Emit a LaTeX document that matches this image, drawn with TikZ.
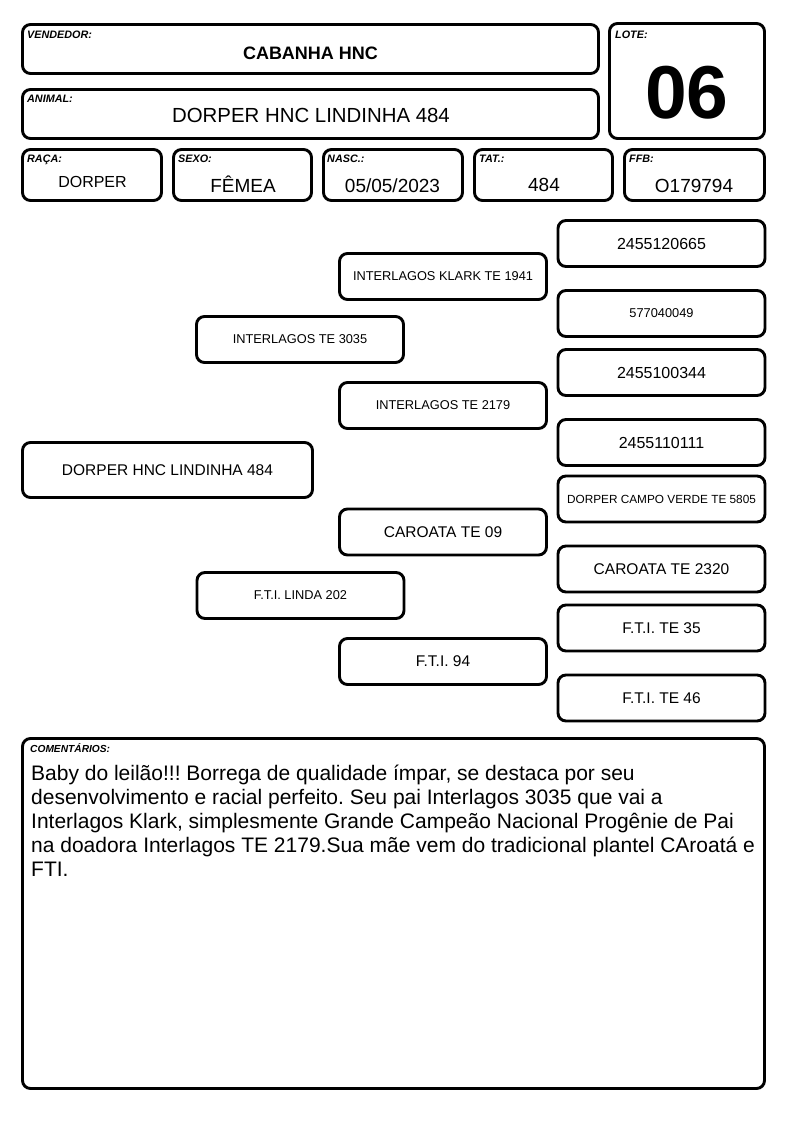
\documentclass[tikz,border=0pt]{standalone}
\usepackage{fontspec}
\setmainfont{Liberation Sans}
\usetikzlibrary{positioning}
\frenchspacing

\tikzset{
  card/.style={draw, line width=2.9pt, rounded corners=8pt, inner sep=0pt},
  ped/.style={card, minimum width=207pt, minimum height=46pt, font=\fontsize{15.5}{18}\selectfont},
  small/.style={font=\fontsize{12.8}{15}\selectfont},
  tag/.style={anchor=base west, inner sep=0pt, font=\bfseries\itshape\fontsize{10.8}{12}\selectfont},
  val/.style={anchor=base, inner sep=0pt, font=\fontsize{19}{22}\selectfont},
}

\begin{document}
\begin{tikzpicture}[x=1pt, y=-1pt]
   \path[use as bounding box, fill=white] (0,0) rectangle (794,1123);

   % header
   \node[card, minimum width=576pt, minimum height=49pt] (vend) at (310.5,49) {};
   \node[card, minimum width=576pt, minimum height=49pt] (anim) at (310.5,114) {};
   \node[card, minimum width=155pt, minimum height=115pt] (lote) at (687,81) {};
   \node[card, minimum width=139pt, minimum height=51pt] (raca) at (92,175) {};
   \node[card, minimum width=138pt, minimum height=51pt] (sexo) at (242.5,175) {};
   \node[card, minimum width=139pt, minimum height=51pt] (nasc) at (393,175) {};
   \node[card, minimum width=138pt, minimum height=51pt] (tat)  at (543.5,175) {};
   \node[card, minimum width=140pt, minimum height=51pt] (ffb)  at (694.5,175) {};

   \node[tag] (vendtag) at (27,39)  {VENDEDOR:};
   \node[tag] (lotetag) at (615,39) {LOTE:};
   \node[tag] (animtag) at (27,103) {ANIMAL:};
   \node[tag] (racatag) at (27,163) {RAÇA:};
   \node[tag] (sexotag) at (178,163) {SEXO:};
   \node[tag] (nasctag) at (327,163) {NASC.:};
   \node[tag] (tattag)  at (479,163) {TAT.:};
   \node[tag] (ffbtag)  at (629,163) {FFB:};

   \node[val, font=\bfseries\fontsize{18}{20}\selectfont] (vendval) at (310.5,60) {CABANHA HNC};
   \node[val, font=\fontsize{20.4}{24}\selectfont] (animval) at (311,123) {DORPER HNC LINDINHA 484};
   \node[val, font=\bfseries\fontsize{75}{80}\selectfont] (loteval) at (687,119) {06};
   \node[val, font=\fontsize{16}{18}\selectfont] (racaval) at (92.5,188) {DORPER};
   \node[val] (sexoval) at (243,193) {FÊMEA};
   \node[val] (nascval) at (392.5,193) {05/05/2023};
   \node[val] (tatval)  at (544,192) {484};
   \node[val] (ffbval)  at (694,193) {O179794};

   % pedigree
   \node[ped, minimum width=290pt, minimum height=55pt] (p0) at (167.5,470) {DORPER HNC LINDINHA 484};
   \node[ped, small] (s1) at (300,339.5) {INTERLAGOS TE 3035};
   \node[ped, small] (d1) at (300.5,595.5) {F.T.I. LINDA 202};
   \node[ped, small] (ss) at (443,276.5) {INTERLAGOS KLARK TE 1941};
   \node[ped, small] (sd) at (443,405.5) {INTERLAGOS TE 2179};
   \node[ped] (ds) at (443,532) {CAROATA TE 09};
   \node[ped] (dd) at (443,661.5) {F.T.I. 94};
   \node[ped, font=\fontsize{16}{18}\selectfont] (sss) at (661.5,243.5) {2455120665};
   \node[ped, small] (ssd) at (661.5,313.5) {577040049};
   \node[ped, font=\fontsize{16}{18}\selectfont] (sds) at (661.5,372.5) {2455100344};
   \node[ped, font=\fontsize{16}{18}\selectfont] (sdd) at (661.5,442.5) {2455110111};
   \node[ped, font=\fontsize{11.8}{14}\selectfont] (dss) at (661.5,499) {DORPER CAMPO VERDE TE 5805};
   \node[ped] (dsd) at (661.5,569) {CAROATA TE 2320};
   \node[ped] (dds) at (661.5,628) {F.T.I. TE 35};
   \node[ped] (ddd) at (661.5,698) {F.T.I. TE 46};

   % comments
   \node[card, minimum width=742pt, minimum height=350pt] (coment) at (393.5,913.5) {};
   \node[tag, font=\bfseries\itshape\fontsize{10.2}{12}\selectfont] (comenttag) at (30,752) {COMENTÁRIOS:};
   \node[anchor=base west, inner sep=0pt, font=\fontsize{21}{24}\selectfont] (comenttxt) at (31,780)
     {\parbox[t]{735pt}{\raggedright
      Baby do leilão!!! Borrega de qualidade ímpar, se destaca por seu\\
      desenvolvimento e racial perfeito. Seu pai Interlagos 3035 que vai a\\
      Interlagos Klark, simplesmente Grande Campeão Nacional Progênie de Pai\\
      na doadora Interlagos TE 2179.Sua mãe vem do tradicional plantel CAroatá e\\
      FTI.}};
\end{tikzpicture}
\end{document}
